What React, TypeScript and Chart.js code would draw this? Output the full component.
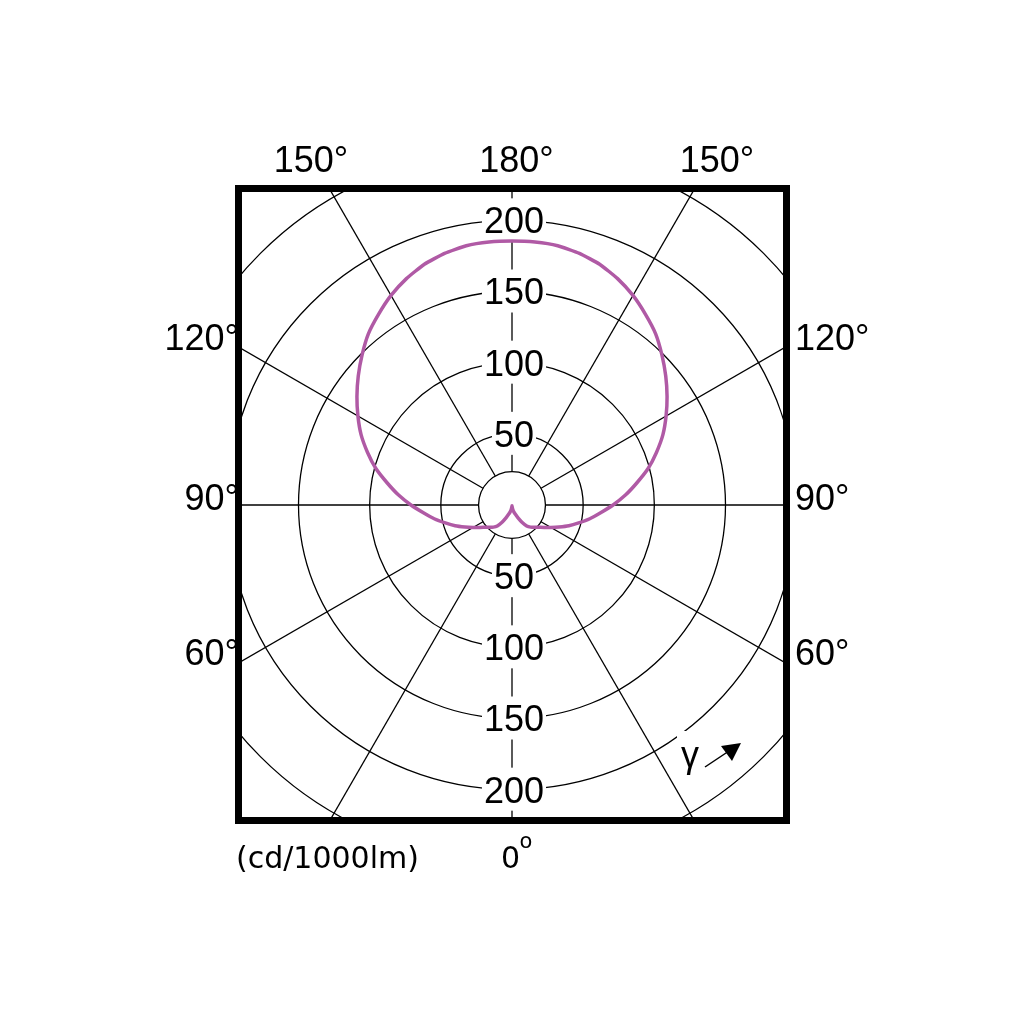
import React, { useEffect, useRef } from 'react';
import Chart from 'chart.js/auto';

// ---- data (C0/C180 plane, symmetric) ----
const GAMMA = [0, 5, 10, 15, 20, 25, 30, 35, 40, 45, 50, 55, 60, 65, 70, 75, 80, 85, 90,
  95, 100, 105, 110, 115, 120, 125, 130, 135, 140, 145, 150, 155, 160, 165, 170, 175, 180];
const INTENSITY = [0.5, 1.5, 3, 5, 7, 10, 14, 18, 20.3, 22, 24.3, 27.5, 31.5, 36.5, 42.5, 48.5, 55.5, 62.5, 71,
  80, 89, 99, 108, 117, 125, 133, 141, 149, 157, 163.5, 170, 175.5, 180, 183, 185, 185.5, 185.5];
const RING_LABELS = [50, 100, 150, 200];
const TOP_LABELS = ['150°', '180°', '150°'];
const SIDE_LABELS = ['120°', '90°', '60°'];
const UNIT_LABEL = '(cd/1000lm)';
const ZERO_LABEL = '0';
const GAMMA_LABEL = 'γ';
const SCALE_MAX = 300;
const SCALE_STEP = 50;
const HOLE_VALUE = 23.5;

// full circle labels built from GAMMA (5° steps)
const STEP = 5;
const N = 360 / STEP;
const FULL_LABELS: string[] = [];
const FULL_DATA: number[] = [];
for (let i = 0; i < N; i++) {
  const a = i * STEP;
  const g = a <= 180 ? a : 360 - a;
  FULL_LABELS.push(String(g));
  FULL_DATA.push(INTENSITY[GAMMA.indexOf(g)]);
}

// ---- layout (page coordinates) ----
const SIZE = 854;
const OX = 85;
const OY = 78;
const BOX = { x0: 238.5, y0: 188.5, x1: 786.5, y1: 820.5, lw: 7 };
const ARIAL = '"Liberation Sans", Arial, sans-serif';
const CURVE_COLOR = '#b05aa5';

const decor = {
  id: 'polarDecor',
  beforeDraw(chart: any) {
    const ctx = chart.ctx;
    ctx.save();
    ctx.beginPath();
    ctx.rect(BOX.x0 - OX - 3, BOX.y0 - OY - 3, BOX.x1 - BOX.x0 + 6, BOX.y1 - BOX.y0 + 6);
    ctx.clip();
  },
  beforeDatasetsDraw(chart: any) {
    const ctx = chart.ctx;
    const s = chart.scales.r;
    const xc = s.xCenter;
    const yc = s.yCenter;
    ctx.save();
    // central hole
    const hr = s.getDistanceFromCenterForValue(HOLE_VALUE);
    ctx.beginPath();
    ctx.arc(xc, yc, hr, 0, Math.PI * 2);
    ctx.fillStyle = '#fff';
    ctx.fill();
    ctx.lineWidth = 1.3;
    ctx.strokeStyle = '#000';
    ctx.stroke();
    // ring labels with backdrop
    ctx.font = '36px ' + ARIAL;
    ctx.textAlign = 'center';
    ctx.textBaseline = 'alphabetic';
    for (const v of RING_LABELS) {
      const d = s.getDistanceFromCenterForValue(v);
      for (const dir of [-1, 1]) {
        const y = yc + dir * d;
        const t = String(v);
        const w = ctx.measureText(t).width;
        const cx = xc + 2;
        ctx.fillStyle = '#fff';
        ctx.fillRect(cx - w / 2 - 2, y - 22, w + 4, 43);
        ctx.fillStyle = '#000';
        ctx.fillText(t, cx, y + 12.9);
      }
    }
    // gamma marker
    ctx.fillStyle = '#fff';
    ctx.fillRect(677 - OX, 731 - OY, 25, 47);
    ctx.fillStyle = '#000';
    ctx.textAlign = 'left';
    ctx.fillText(GAMMA_LABEL, 681 - OX, 767 - OY);
    ctx.beginPath();
    ctx.moveTo(705 - OX, 767 - OY);
    ctx.lineTo(729 - OX, 751 - OY);
    ctx.lineWidth = 1.5;
    ctx.stroke();
    ctx.beginPath();
    ctx.moveTo(741 - OX, 743 - OY);
    ctx.lineTo(721 - OX, 746 - OY);
    ctx.lineTo(732 - OX, 761 - OY);
    ctx.closePath();
    ctx.fill();
    ctx.restore();
  },
  afterDatasetsDraw(chart: any) {
    chart.ctx.restore();
  },
  afterDraw(chart: any) {
    const ctx = chart.ctx;
    ctx.save();
    ctx.lineWidth = BOX.lw;
    ctx.strokeStyle = '#000';
    ctx.strokeRect(BOX.x0 - OX, BOX.y0 - OY, BOX.x1 - BOX.x0, BOX.y1 - BOX.y0);
    ctx.fillStyle = '#000';
    ctx.font = '36px ' + ARIAL;
    ctx.textBaseline = 'alphabetic';
    ctx.textAlign = 'center';
    const topX = [311, 516.5, 717];
    TOP_LABELS.forEach((t, i) => ctx.fillText(t, topX[i] - OX, 172 - OY));
    const sideY = [350, 510, 665];
    ctx.textAlign = 'right';
    SIDE_LABELS.forEach((t, i) => ctx.fillText(t, 239 - OX, sideY[i] - OY));
    ctx.textAlign = 'left';
    SIDE_LABELS.forEach((t, i) => ctx.fillText(t, 795 - OX, sideY[i] - OY));
    ctx.font = '30px "DejaVu Sans", sans-serif';
    ctx.fillText(UNIT_LABEL, 236 - OX, 868 - OY);
    ctx.fillText(ZERO_LABEL, 501 - OX, 868 - OY);
    ctx.font = '21px "DejaVu Sans", sans-serif';
    ctx.fillText('o', 519.5 - OX, 848 - OY);
    ctx.restore();
  },
};

export default function App() {
  const ref = useRef<HTMLCanvasElement>(null);
  useEffect(() => {
    const chart = new Chart(ref.current as HTMLCanvasElement, {
      type: 'radar',
      data: {
        labels: FULL_LABELS,
        datasets: [
          {
            label: 'C0/C180',
            data: FULL_DATA,
            borderColor: CURVE_COLOR,
            borderWidth: 3.5,
            borderJoinStyle: 'round',
            fill: false,
            pointRadius: 0,
            pointHoverRadius: 0,
            tension: 0.15,
          },
        ],
      },
      options: {
        animation: false,
        responsive: false,
        events: [],
        layout: { padding: 0 },
        plugins: { legend: { display: false }, tooltip: { enabled: false }, title: { display: false } },
        scales: {
          r: {
            type: 'radialLinear',
            min: 0,
            max: SCALE_MAX,
            startAngle: 180,
            ticks: { display: false, stepSize: SCALE_STEP },
            pointLabels: { display: false },
            grid: { circular: true, color: '#000', lineWidth: 1.3 },
            angleLines: {
              display: true,
              color: '#000',
              lineWidth: (c: any) => (c.index % 6 === 0 ? 1.3 : 0),
            },
          },
        },
      } as any,
      plugins: [decor],
    });
    return () => chart.destroy();
  }, []);
  return (
    <div style={{ position: 'absolute', left: 0, top: 0, width: 1024, height: 1024, background: '#fff' }}>
      <canvas
        ref={ref}
        width={SIZE}
        height={SIZE}
        style={{ position: 'absolute', left: OX, top: OY, width: SIZE, height: SIZE }}
      />
    </div>
  );
}
